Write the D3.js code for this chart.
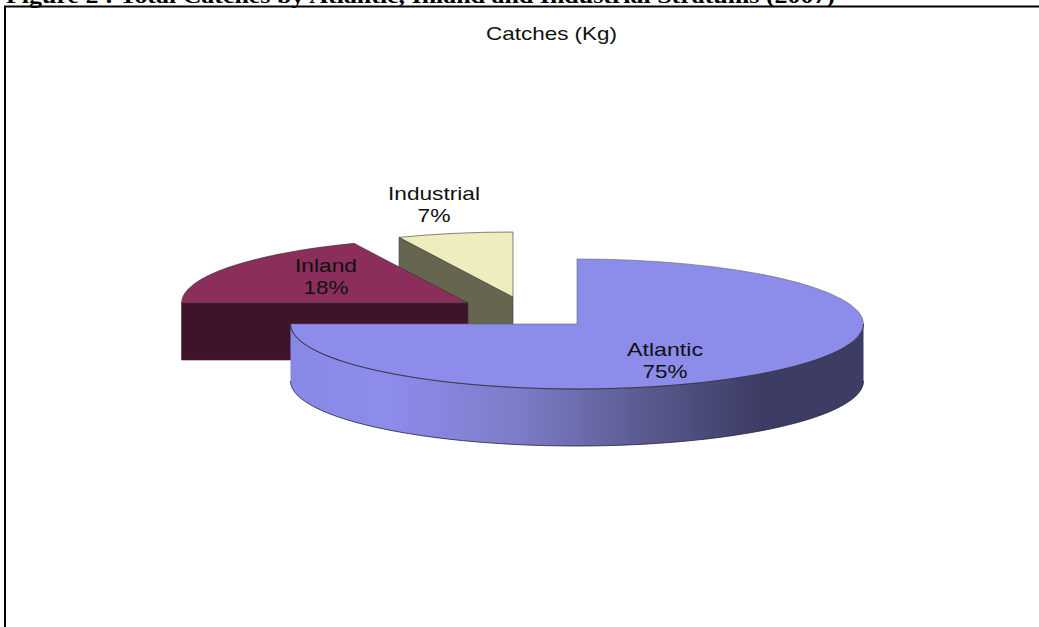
<!DOCTYPE html>
<html><head><meta charset="utf-8">
<script src="https://cdn.jsdelivr.net/npm/d3@7"></script>
<style>html,body{margin:0;padding:0;background:#fff}svg{display:block}</style>
</head><body><svg id="c" width="1039" height="627"></svg>
<script>
const categories = ["Atlantic", "Inland", "Industrial"];
const shares = [75, 18.49, 6.51];
const topColors = ["#8c8ceb", "#8b2e5b", "#eeedbd"];
const sideColors = ["#3c3c64", "#3f142b", "#666650"];
const figureTitle = "Figure 2 : Total Catches by Atlantic, Inland and Industrial Stratums (2007)";
const chartTitle = "Catches (Kg)";

const svg = d3.select("#c");
const rx = 286.5, ry = 65, depth = 57;
const centres = [[577, 324], [468, 303], [513, 297]];
const labelPos = [[665, 349], [326, 265], [434, 193]];
const labelW = [76, 62, 92];

svg.append("text").attr("x", 6).attr("y", 3).text(figureTitle)
  .attr("textLength", 829).attr("lengthAdjust", "spacingAndGlyphs")
  .attr("font-family", "Liberation Serif").attr("font-weight", "bold").attr("font-size", 20)
  .attr("fill", "#000");
svg.append("path").attr("d", "M5 627V6.5H1039").attr("fill", "none").attr("stroke", "#000").attr("stroke-width", 2);
svg.append("text").attr("x", 551.5).attr("y", 40).attr("text-anchor", "middle").text(chartTitle)
  .attr("textLength", 131).attr("lengthAdjust", "spacingAndGlyphs")
  .attr("font-family", "Liberation Sans").attr("font-size", 19).attr("fill", "#111");

const defs = svg.append("defs");
const grad = defs.append("linearGradient").attr("id", "wall").attr("gradientUnits", "userSpaceOnUse")
  .attr("x1", 291).attr("x2", 863).attr("y1", 0).attr("y2", 0);
[[0, "#8888e6"], [0.17, "#8c8ceb"], [0.4, "#7c7cc8"], [0.62, "#5a5a90"], [0.82, "#3c3c64"], [1, "#3c3c64"]]
  .forEach(s => grad.append("stop").attr("offset", s[0]).attr("stop-color", s[1]));

const pie = d3.pie().sort(null).value(d => d);
const arcs = pie(shares);
const arcGen = d3.arc().innerRadius(0).outerRadius(rx);
const px = (c, a) => c[0] + rx * Math.sin(a);
const py = (c, a) => c[1] - ry * Math.cos(a);
const line = d3.line();
const sweep = (a0, a1, n = 80) => d3.range(n + 1).map(i => a0 + (a1 - a0) * i / n);

function wall(c, a0, a1) {
  const ang = sweep(a0, a1);
  const top = ang.map(a => [px(c, a), py(c, a)]);
  const bot = ang.slice().reverse().map(a => [px(c, a), py(c, a) + depth]);
  return line(top.concat(bot)) + "Z";
}
const edge = "#333";
const g = svg.append("g");
// back to front: Industrial, Inland, Atlantic
[2, 1, 0].forEach(i => {
  const c = centres[i], d = arcs[i];
  if (i === 2) {
    const t = [px(c, d.startAngle), py(c, d.startAngle)];
    g.append("path").attr("d", line([[c[0], c[1]], t, [t[0], t[1] + depth], [c[0], c[1] + depth]]) + "Z")
      .attr("fill", sideColors[i]).attr("stroke", edge).attr("stroke-width", .6);
  }
  if (i === 1) {
    const t = [px(c, d.startAngle), py(c, d.startAngle)];
    g.append("path").attr("d", line([t, [c[0], c[1]], [c[0], c[1] + depth], [t[0], t[1] + depth]]) + "Z")
      .attr("fill", sideColors[i]).attr("stroke", edge).attr("stroke-width", .6);
  }
  if (i === 0) {
    g.append("path").attr("d", wall(c, Math.PI / 2, Math.PI * 1.5))
      .attr("fill", "url(#wall)").attr("stroke", "none");
  }
  g.append("path").attr("d", arcGen(d))
    .attr("transform", `translate(${c[0]},${c[1]}) scale(1,${ry / rx})`)
    .attr("fill", topColors[i]).attr("stroke", i === 0 ? "#666" : edge)
    .attr("stroke-width", .6).attr("vector-effect", "non-scaling-stroke");
  if (i === 0) {
    // darker outline along the front rim and the base of the wall
    const ang = sweep(Math.PI / 2, Math.PI * 1.5);
    [0, depth].forEach(dy => g.append("path")
      .attr("d", line(ang.map(a => [px(c, a), py(c, a) + dy])))
      .attr("fill", "none").attr("stroke", "#22223a").attr("stroke-width", .8));
  }
});

categories.forEach((name, i) => {
  const [x, y] = labelPos[i];
  const t = svg.append("g").attr("font-family", "Liberation Sans").attr("font-size", 19)
    .attr("fill", "#111").attr("text-anchor", "middle");
  t.append("text").attr("x", x).attr("y", y + 7).text(name)
    .attr("textLength", labelW[i]).attr("lengthAdjust", "spacingAndGlyphs");
  t.append("text").attr("x", x).attr("y", y + 29).text(Math.round(shares[i]) + "%")
    .attr("textLength", i === 2 ? 33 : 45).attr("lengthAdjust", "spacingAndGlyphs");
});
</script></body></html>
